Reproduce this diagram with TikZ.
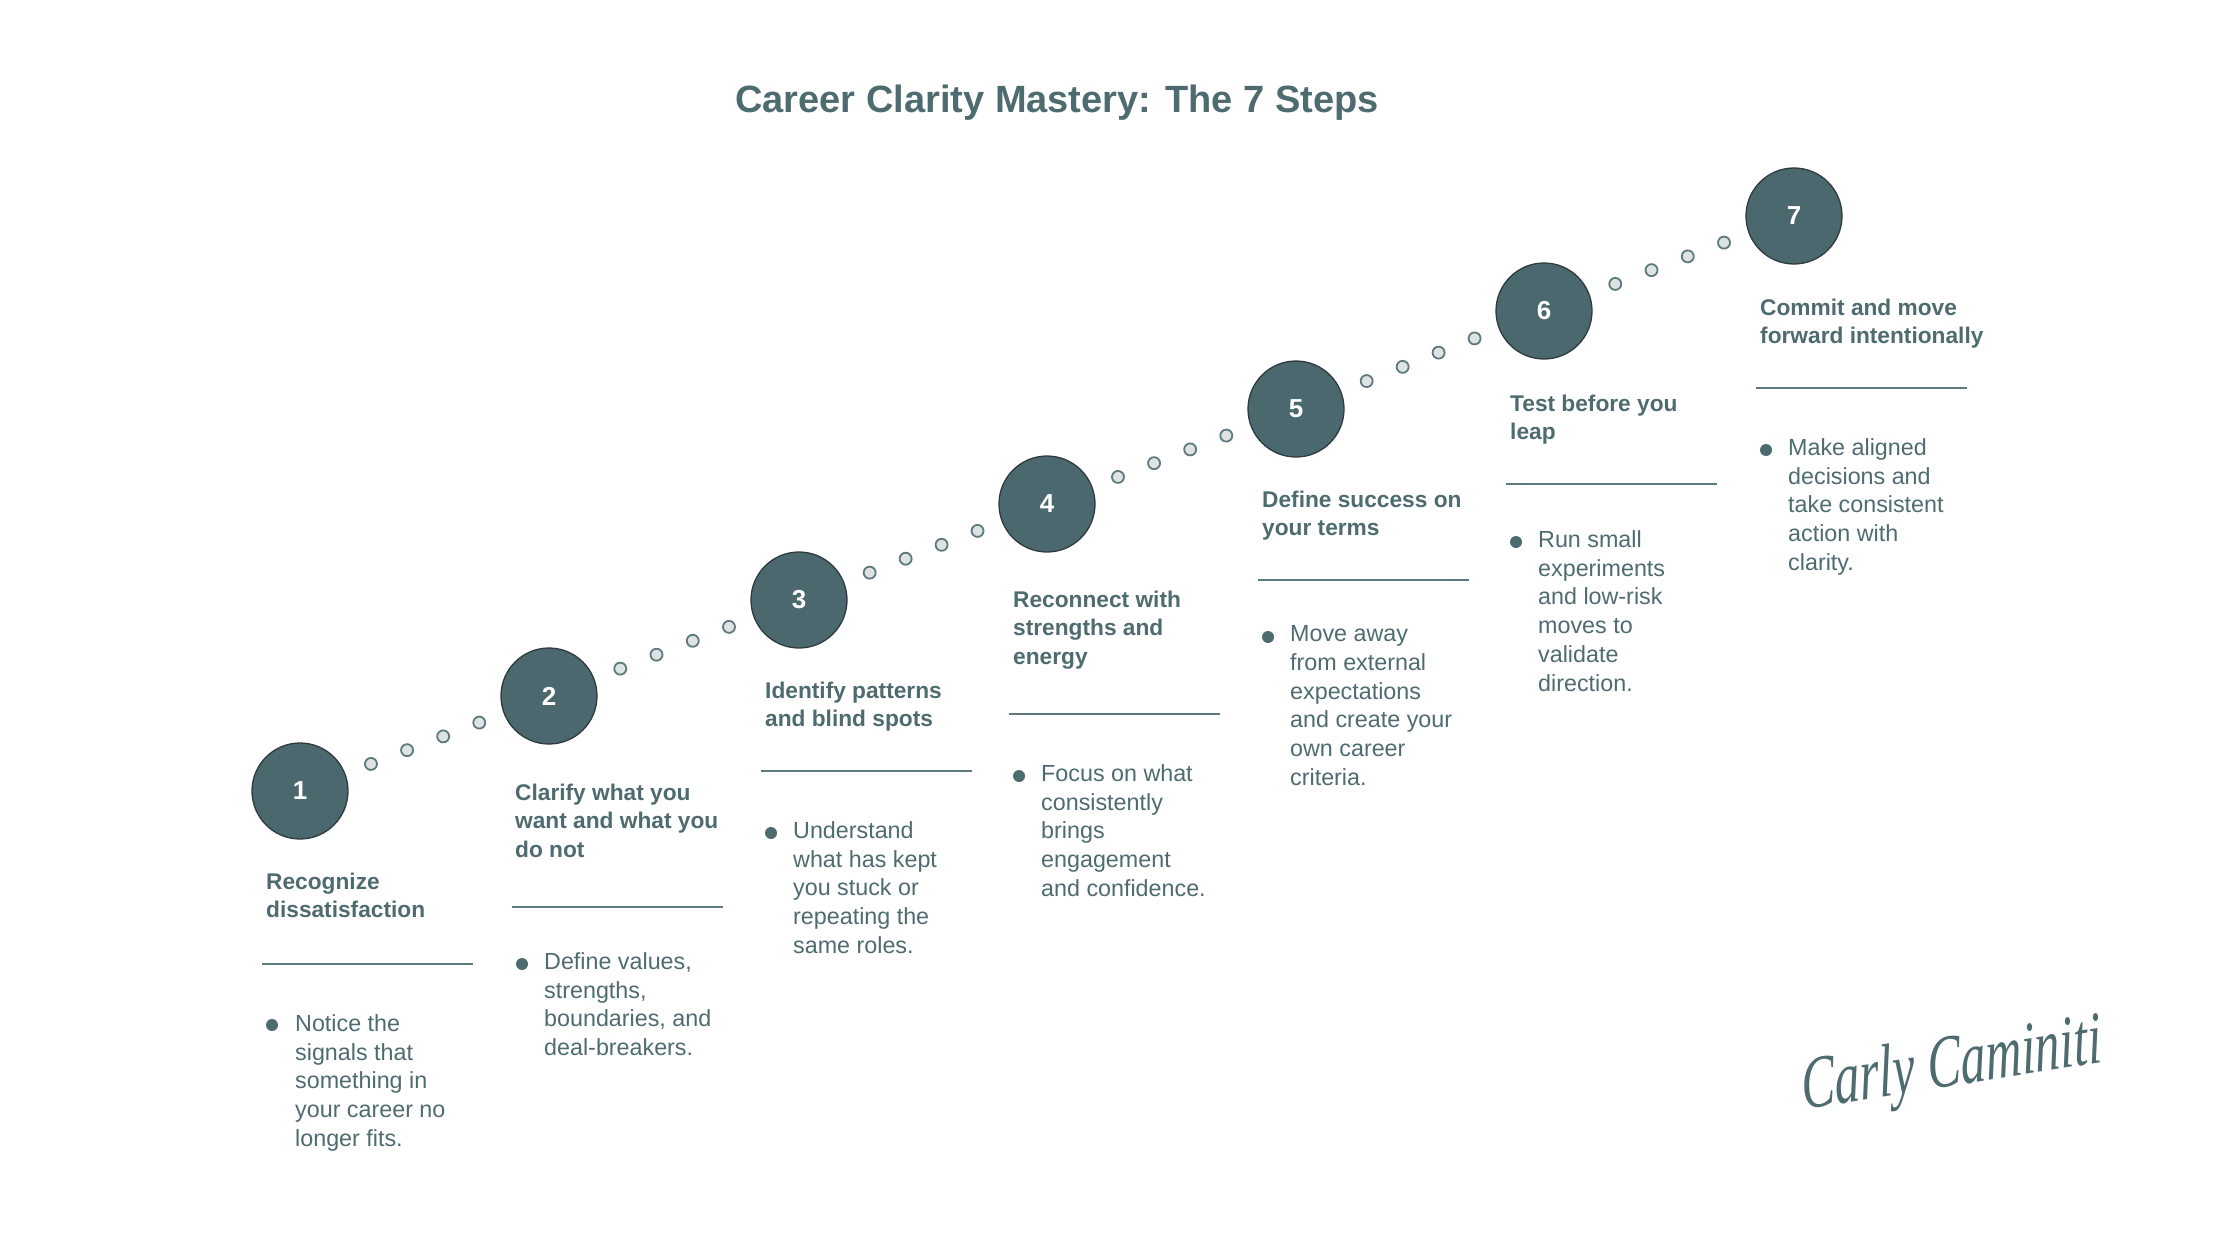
\documentclass[tikz,border=0pt]{standalone}
\usepackage{fontspec}
\setmainfont{Liberation Sans}
\newfontfamily\signfont{Liberation Serif}
\usetikzlibrary{calc}
\definecolor{slate}{HTML}{4A686D}
\definecolor{slatetext}{HTML}{4E6C70}
\definecolor{slateline}{HTML}{5F7A7E}
\definecolor{dotfill}{HTML}{DDE2E3}
\definecolor{rimdark}{HTML}{2F3B3D}

\begin{document}
\begin{tikzpicture}[x=1pt, y=-1pt,
    stepnum/.style={circle, fill=slate, draw=rimdark, line width=1.3pt,
        minimum size=96pt, inner sep=0pt, text=white,
        font=\bfseries\fontsize{26}{30}\selectfont},
    dotnode/.style={circle, fill=dotfill, draw=slateline, line width=1.8pt,
        minimum size=12pt, inner sep=0pt},
    steptitle/.style={anchor=north west, inner sep=0pt, align=left,
        text=slatetext, font=\bfseries\fontsize{22.7}{28.7}\selectfont},
    stepbody/.style={anchor=north west, inner sep=0pt, align=left,
        text=slatetext, font=\fontsize{23.3}{28.7}\selectfont},
    bulletdot/.style={circle, fill=slatetext, inner sep=0pt, minimum size=12pt},
    rule/.style={draw=slateline, line width=1.8pt}]
    \useasboundingbox (0,0) rectangle (2240,1260);
    \fill[white] (0,0) rectangle (2240,1260);

    \node[anchor=base, text=slatetext, font=\bfseries\fontsize{38}{46}\selectfont]
        (title) at (1057,113) {Career Clarity Mastery: The 7 Steps};

    % steps
    \node[stepnum] (c1) at (300,791) {1};
    \node[stepnum] (c2) at (549,696) {2};
    \node[stepnum] (c3) at (799,600) {3};
    \node[stepnum] (c4) at (1047,504) {4};
    \node[stepnum] (c5) at (1296,409) {5};
    \node[stepnum] (c6) at (1544,311) {6};
    \node[stepnum] (c7) at (1794,216) {7};

    \foreach \a/\b in {1/2,2/3,3/4,4/5,5/6,6/7}
        \foreach \t [count=\k] in {0.285,0.43,0.575,0.72}
            \node[dotnode] (d\a\k) at ($(c\a)!\t!(c\b)$) {};

    % titles
    \node[steptitle] (t1) at (266,872.5) {Recognize\\dissatisfaction};
    \node[steptitle] (t2) at (515,783.5) {Clarify what you\\want and what you\\do not};
    \node[steptitle] (t3) at (765,681.5) {Identify patterns\\and blind spots};
    \node[steptitle] (t4) at (1013,590.5) {Reconnect with\\strengths and\\energy};
    \node[steptitle] (t5) at (1262,490.5) {Define success on\\your terms};
    \node[steptitle] (t6) at (1510,394.5) {Test before you\\leap};
    \node[steptitle] (t7) at (1760,298.5) {Commit and move\\forward intentionally};

    % rules
    \draw[rule] (262,964) -- (473,964);
    \draw[rule] (512,907) -- (723,907);
    \draw[rule] (761,771) -- (972,771);
    \draw[rule] (1009,714) -- (1220,714);
    \draw[rule] (1258,580) -- (1469,580);
    \draw[rule] (1506,484) -- (1717,484);
    \draw[rule] (1756,388) -- (1967,388);

    % bullets
    \node[bulletdot] (b1) at (272,1025) {};
    \node[bulletdot] (b2) at (522,964) {};
    \node[bulletdot] (b3) at (771,833) {};
    \node[bulletdot] (b4) at (1019,776) {};
    \node[bulletdot] (b5) at (1268,637) {};
    \node[bulletdot] (b6) at (1516,542) {};
    \node[bulletdot] (b7) at (1766,450) {};

    \node[stepbody] (p1) at (295,1014.5) {Notice the\\signals that\\something in\\your career no\\longer fits.};
    \node[stepbody] (p2) at (544,952.5) {Define values,\\strengths,\\boundaries, and\\deal-breakers.};
    \node[stepbody] (p3) at (793,821.5) {Understand\\what has kept\\you stuck or\\repeating the\\same roles.};
    \node[stepbody] (p4) at (1041,764.5) {Focus on what\\consistently\\brings\\engagement\\and confidence.};
    \node[stepbody] (p5) at (1290,625.5) {Move away\\from external\\expectations\\and create your\\own career\\criteria.};
    \node[stepbody] (p6) at (1538,530.5) {Run small\\experiments\\and low-risk\\moves to\\validate\\direction.};
    \node[stepbody] (p7) at (1788,438.5) {Make aligned\\decisions and\\take consistent\\action with\\clarity.};

    % signature
    \node[text=slatetext, font=\signfont\itshape\fontsize{50}{60}\selectfont,
        yscale=1.5, rotate=6] (sign) at (1952,1068) {Carly Caminiti};
\end{tikzpicture}
\end{document}
